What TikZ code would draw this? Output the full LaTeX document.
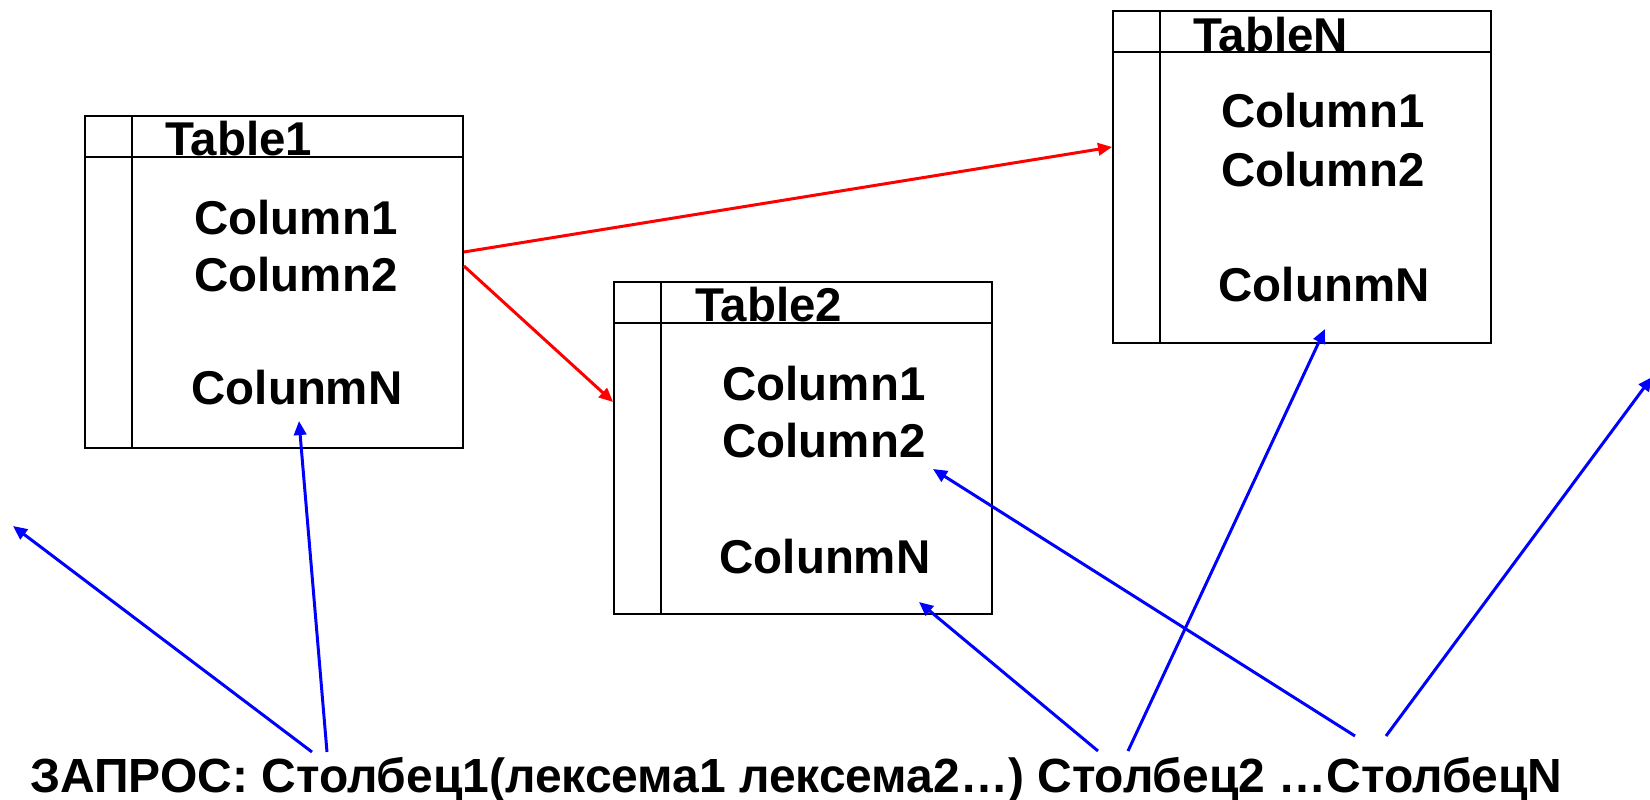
\documentclass[tikz,border=0pt]{standalone}
\usepackage{fontspec}
\setmainfont{Liberation Sans}
\usetikzlibrary{arrows.meta, calc}
\definecolor{linkred}{RGB}{255,0,0}
\definecolor{queryblue}{RGB}{0,0,255}

\begin{document}
\begin{tikzpicture}[
  x=0.02cm, y=-0.02cm,
  tbl/.style={draw, line width=1.1pt, minimum width=7.56cm, minimum height=6.64cm, inner sep=0pt},
  grid/.style={line width=1.1pt},
  tname/.style={font=\fontsize{27}{32}\selectfont\bfseries, anchor=base west, inner sep=0pt},
  col/.style={font=\fontsize{27}{32}\selectfont\bfseries, anchor=base, inner sep=0pt},
  qtext/.style={font=\fontsize{27.3}{33}\selectfont\bfseries, anchor=base west, inner sep=0pt},
  rarr/.style={-{Triangle[length=8pt, width=7pt]}, line width=1.7pt, linkred},
  barr/.style={-{Triangle[length=8pt, width=7pt]}, line width=1.7pt, queryblue},
]
\useasboundingbox (0,0) rectangle (1650,800);

% === Table1 ===
\begin{scope}[shift={(85,116)}]
  \node[tbl] (t1) at (189,166) {};
  \draw[grid] (47,0) -- (47,332);
  \draw[grid] (0,41) -- (378,41);
  \node[tname] (t1name) at (80,40) {Table1};
  \node[col] (t1c1) at (211,119) {Column1};
  \node[col] (t1c2) at (211,176) {Column2};
  \node[col] (t1cN) at (212,289) {ColunmN};
\end{scope}

% === Table2 ===
\begin{scope}[shift={(614,282)}]
  \node[tbl] (t2) at (189,166) {};
  \draw[grid] (47,0) -- (47,332);
  \draw[grid] (0,41) -- (378,41);
  \node[tname] (t2name) at (81,40) {Table2};
  \node[col] (t2c1) at (210,118) {Column1};
  \node[col] (t2c2) at (210,176) {Column2};
  \node[col] (t2cN) at (211,291) {ColunmN};
\end{scope}

% === TableN ===
\begin{scope}[shift={(1113,11)}]
  \node[tbl] (tN) at (189,166) {};
  \draw[grid] (47,0) -- (47,332);
  \draw[grid] (0,41) -- (378,41);
  \node[tname] (tNname) at (80,41) {TableN};
  \node[col] (tNc1) at (210,117) {Column1};
  \node[col] (tNc2) at (210,176) {Column2};
  \node[col] (tNcN) at (211,291) {ColunmN};
\end{scope}

% links between tables
\draw[rarr] ($(t1.east)+(0,-30)$) -- ($(tN.west)+(0,-30)$);
\draw[rarr] ($(t1.east)+(0,-16)$) -- ($(t2.west)+(0,-46)$);

% === Query line ===
\node[qtext] (query) at (30,792) {ЗАПРОС: Столбец1(лексема1 лексема2…) Столбец2 …СтолбецN};

\coordinate (q1a) at (312,752);
\coordinate (q1b) at (327,752);
\coordinate (q2a) at (1098,751);
\coordinate (q2b) at (1128,751);
\coordinate (qNa) at (1355,736);
\coordinate (qNb) at (1386,736);
\coordinate (outL) at (13,526);
\coordinate (outR) at (1652,377);

\draw[barr] (q1a) -- (outL);
\draw[barr] (q1b) -- ($(t1cN.base)+(2,16)$);
\draw[barr] (q2a) -- ($(t2cN.base)+(94,29)$);
\draw[barr] (q2b) -- ($(tNcN.base)+(1,27)$);
\draw[barr] (qNa) -- ($(t2c2.base)+(109,11)$);
\draw[barr] (qNb) -- (outR);
\end{tikzpicture}
\end{document}
